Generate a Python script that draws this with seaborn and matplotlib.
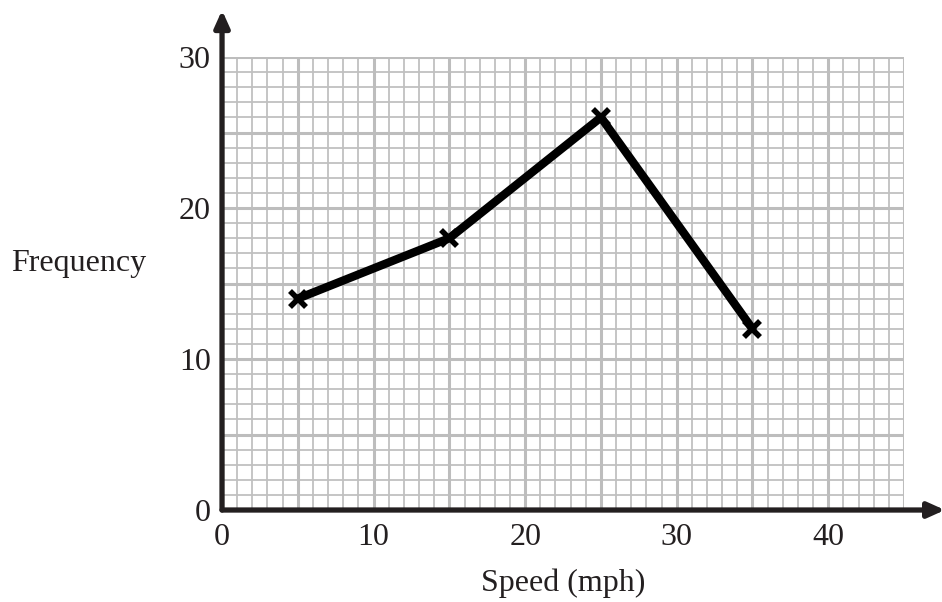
import matplotlib
matplotlib.use("Agg")
import matplotlib.pyplot as plt
import seaborn as sns
import pandas as pd
from matplotlib.ticker import MultipleLocator

speed = [5, 15, 25, 35]
frequency = [14, 18, 26, 12]
x_ticks = [0, 10, 20, 30, 40]
y_ticks = [0, 10, 20, 30]

df = pd.DataFrame({"speed": speed, "frequency": frequency})

sns.set_style("white")
plt.rcParams["font.family"] = ["Liberation Serif", "DejaVu Serif"]

fig = plt.figure(figsize=(9.42, 6.02), dpi=100)
ax = fig.add_axes([0.2357, 0.1528, 0.7240, 0.7525])

sns.lineplot(data=df, x="speed", y="frequency", color="black", linewidth=6,
             marker="x", markersize=12, markeredgewidth=4,
             markeredgecolor="black", ax=ax, zorder=3)

ax.set_xlim(0, 45)
ax.set_ylim(0, 30)
ax.set_xticks(x_ticks)
ax.set_yticks(y_ticks)
ax.xaxis.set_minor_locator(MultipleLocator(1))
ax.yaxis.set_minor_locator(MultipleLocator(1))

# graph paper: fine lines every 1, heavier every 5
ax.grid(which="major", visible=False)
ax.grid(which="minor", color="#c0c0c0", linewidth=1.3, zorder=0)
for v in range(5, 46, 5):
    ax.axvline(v, color="#bdbdbd", linewidth=2.2, zorder=1)
for v in range(5, 31, 5):
    ax.axhline(v, color="#bdbdbd", linewidth=2.2, zorder=1)
ax.set_axisbelow(True)

ax.tick_params(axis="both", which="both", length=0, labelsize=23, colors="#231f20")
ax.tick_params(axis="x", pad=9)
ax.tick_params(axis="y", pad=8)

for s in ["top", "right", "left", "bottom"]:
    ax.spines[s].set_visible(False)

# axes with arrows
arrow = dict(arrowstyle="-|>,head_length=1.0,head_width=0.45",
             color="#231f20", lw=3.8, shrinkA=0, shrinkB=0)
ax.annotate("", xy=(47.7, 0), xytext=(0, 0), arrowprops=arrow,
            annotation_clip=False, zorder=5)
ax.annotate("", xy=(0, 33.1), xytext=(0, 0), arrowprops=arrow,
            annotation_clip=False, zorder=5)

ax.set_xlabel("Speed (mph)", fontsize=23, color="#231f20", labelpad=12)
ax.set_ylabel("")
fig.text(0.083, 0.563, "Frequency", fontsize=23, color="#231f20",
         ha="center", va="center")

fig.savefig("out.png", dpi=100)
